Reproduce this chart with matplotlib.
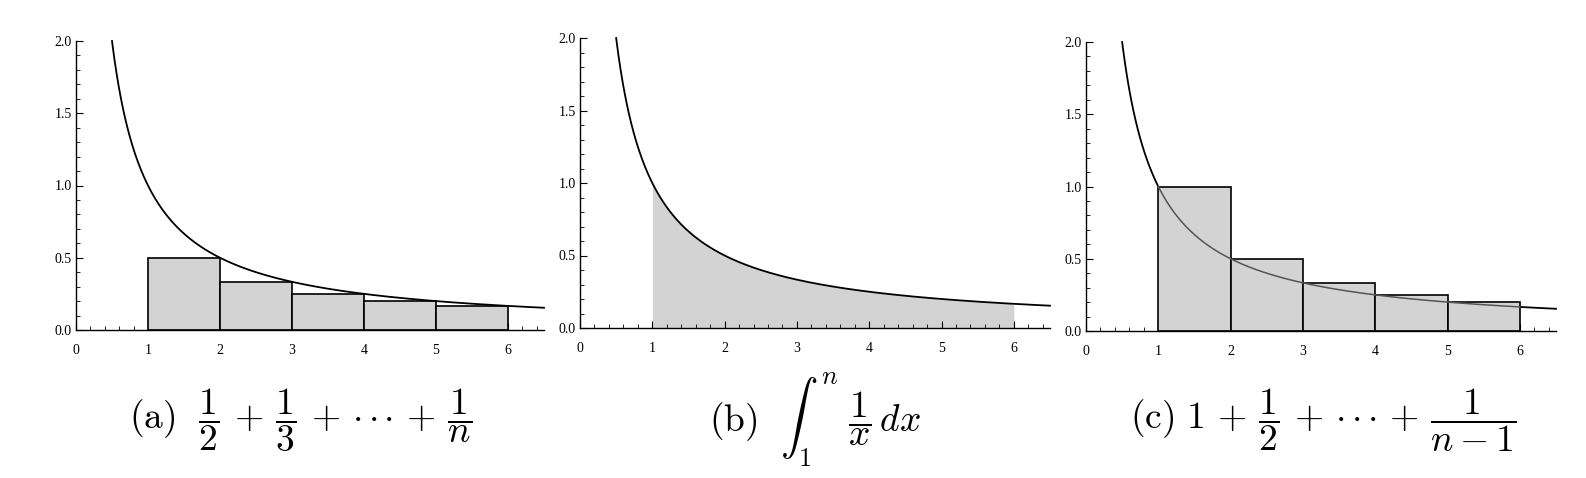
import numpy as np
import matplotlib
matplotlib.use("Agg")
import matplotlib.pyplot as plt
from matplotlib.ticker import MultipleLocator

plt.rcParams['mathtext.fontset'] = 'cm'

# data
lefts_a = [1, 2, 3, 4, 5]
heights_a = [0.5, 0.333, 0.25, 0.2, 0.167]
lefts_c = [1, 2, 3, 4, 5]
heights_c = [1.0, 0.5, 0.333, 0.25, 0.2]
integral_range = (1, 6)
x_ticks = [0, 1, 2, 3, 4, 5, 6]
y_ticks = [0.0, 0.5, 1.0, 1.5, 2.0]
DOTS = r"{\cdot}\,{\cdot}\,{\cdot}"
captions = [r"$\mathrm{(a)}\ \ \dfrac{1}{2}\,+\,\dfrac{1}{3}\,+\," + DOTS + r"\,+\,\dfrac{1}{n}$",
            r"$\mathrm{(b)}\ \ \int_1^n\ \dfrac{1}{x}\,dx$",
            r"$\mathrm{(c)}\ 1\,+\,\dfrac{1}{2}\,+\," + DOTS + r"\,+\,\dfrac{1}{n-1}$"]

W, H = 1586, 478
fig = plt.figure(figsize=(W / 100, H / 100), dpi=100)

boxes = [(76, 544, 330, 41), (580, 1050, 328, 38), (1086, 1556, 331, 42)]
cap_x = [301, 815, 1323]

xs = np.linspace(0.5, 6.5, 600)
fill = '#d3d3d3'

for i, (l, r, b, t) in enumerate(boxes):
    ax = fig.add_axes([l / W, 1 - b / H, (r - l) / W, (b - t) / H])
    ax.set_xlim(0, 6.5)
    ax.set_ylim(0, 2.0)
    for s in ['top', 'right']:
        ax.spines[s].set_visible(False)
    for s in ['left', 'bottom']:
        ax.spines[s].set_linewidth(1.0)
    ax.set_xticks(x_ticks)
    ax.set_yticks(y_ticks)
    ax.set_yticklabels([f"{v:.1f}" for v in y_ticks])
    ax.xaxis.set_minor_locator(MultipleLocator(0.2))
    ax.yaxis.set_minor_locator(MultipleLocator(0.1))
    ax.tick_params(which='major', direction='in', length=5, width=0.8,
                   labelsize=10)
    ax.tick_params(which='minor', direction='in', length=3, width=0.6)
    ax.tick_params(axis='x', pad=10)
    ax.tick_params(axis='y', pad=3)
    for lab in ax.get_xticklabels() + ax.get_yticklabels():
        lab.set_fontfamily('Liberation Serif')

    if i == 0:
        ax.plot(xs, 1 / xs, color='black', lw=1.3, clip_on=False, zorder=3)
        ax.bar(lefts_a, heights_a, width=1, align='edge', color=fill,
               edgecolor='black', linewidth=1.2, zorder=2)
    elif i == 1:
        xf = np.linspace(integral_range[0], integral_range[1], 400)
        ax.fill_between(xf, 0, 1 / xf, color=fill, lw=0, zorder=1)
        ax.plot(xs, 1 / xs, color='black', lw=1.3, clip_on=False, zorder=3)
    else:
        ax.bar(lefts_c, heights_c, width=1, align='edge', color=fill,
               edgecolor='black', linewidth=1.2, zorder=2)
        xin = xs[(xs >= lefts_c[0]) & (xs <= lefts_c[-1] + 1)]
        xl = xs[xs <= lefts_c[0]]
        xr = xs[xs >= lefts_c[-1] + 1]
        ax.plot(xl, 1 / xl, color='black', lw=1.3, clip_on=False, zorder=3)
        ax.plot(xr, 1 / xr, color='black', lw=1.3, clip_on=False, zorder=3)
        ax.plot(xin, 1 / xin, color='#555555', lw=1.1, zorder=3)

    fig.text(cap_x[i] / W, 1 - 420 / H, captions[i], ha='center', va='center',
             fontsize=27)

fig.savefig('out.png', dpi=100)
